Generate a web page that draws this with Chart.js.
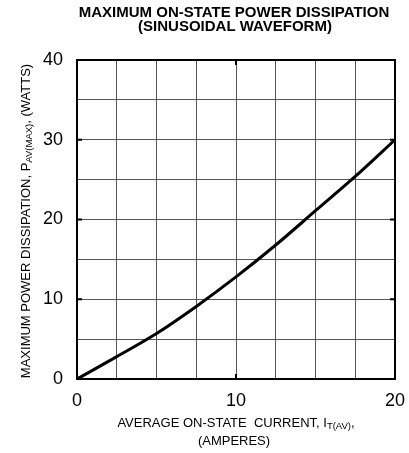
<!DOCTYPE html>
<html lang="en">
<head>
   <meta charset="UTF-8">
   <title>Maximum On-State Power Dissipation</title>
   <style>
      body { margin: 0; background: #fff; }
      #wrap { width: 409px; height: 453px; }
   </style>
   <script src="https://cdn.jsdelivr.net/npm/chart.js@4/dist/chart.umd.min.js"></script>
</head>
<body>
   <div id="wrap"><canvas id="power" width="409" height="453"></canvas></div>

   <script>
      // values
      const currentAmps = [0, 2.5, 5, 7.5, 10, 12.5, 15, 17.5, 20];
      const powerWatts  = [0, 2.8, 5.7, 9.1, 12.8, 16.8, 21.1, 25.4, 30];

      const xTicks = [0, 10, 20];
      const yTicks = [0, 10, 20, 30, 40];

      const titleLines = ['MAXIMUM ON-STATE POWER DISSIPATION', '(SINUSOIDAL WAVEFORM)'];

      let points = currentAmps.map((c, i) => ({ x: c, y: powerWatts[i] }));

      // draws a string with an inline subscript, centred on (cx, cy)
      function subText(ctx, parts, cx, cy) {
         let total = 0;
         parts.forEach(p => { ctx.font = p.font; total += ctx.measureText(p.t).width; });
         let x = cx - total / 2;
         parts.forEach(p => {
            ctx.font = p.font;
            ctx.fillText(p.t, x, cy + (p.dy || 0));
            x += ctx.measureText(p.t).width;
         });
      }

      const decor = {
         id: 'decor',
         afterDraw(chart) {
            const ctx = chart.ctx;
            const a = chart.chartArea;
            const xs = chart.scales.x, ys = chart.scales.y;
            ctx.save();

            // frame
            ctx.strokeStyle = '#000';
            ctx.lineWidth = 2;
            ctx.strokeRect(a.left, a.top, a.right - a.left, a.bottom - a.top);

            // small inward tick marks on the major values
            [10, 20, 30].forEach(v => {
               let py = ys.getPixelForValue(v);
               ctx.beginPath();
               ctx.moveTo(a.left, py); ctx.lineTo(a.left + 5, py);
               ctx.moveTo(a.right, py); ctx.lineTo(a.right - 5, py);
               ctx.stroke();
            });
            [10].forEach(v => {
               let px = xs.getPixelForValue(v);
               ctx.beginPath();
               ctx.moveTo(px, a.top); ctx.lineTo(px, a.top + 5);
               ctx.moveTo(px, a.bottom); ctx.lineTo(px, a.bottom - 5);
               ctx.stroke();
            });

            ctx.fillStyle = '#000';
            ctx.textBaseline = 'middle';

            // title
            ctx.font = 'bold 15px "Liberation Sans", Arial, sans-serif';
            ctx.textAlign = 'center';
            ctx.fillText(titleLines[0], 234, 13);
            ctx.fillText(titleLines[1], 235, 27);
            ctx.textAlign = 'left';

            const f = '13px "Liberation Sans", Arial, sans-serif';
            const fs = '9.5px "Liberation Sans", Arial, sans-serif';

            // x axis title
            subText(ctx, [
               { t: 'AVERAGE ON-STATE  CURRENT, I', font: f },
               { t: 'T(AV)', font: fs, dy: 3 },
               { t: ',', font: f }
            ], 236, 423);
            ctx.textAlign = 'center';
            ctx.font = f;
            ctx.fillText('(AMPERES)', 234, 441);
            ctx.textAlign = 'left';

            // y axis title
            ctx.translate(26, 221);
            ctx.rotate(-Math.PI / 2);
            subText(ctx, [
               { t: 'MAXIMUM POWER DISSIPATION, P', font: f },
               { t: 'AV(MAX)', font: fs, dy: 3 },
               { t: ', (WATTS)', font: f }
            ], 0, 0);

            ctx.restore();
         }
      };

      const tickFont = { family: '"Liberation Sans", Arial, sans-serif', size: 18 };

      new Chart(document.getElementById('power').getContext('2d'), {
         type: 'scatter',
         data: {
            datasets: [{
               data: points,
               showLine: true,
               borderColor: '#000',
               borderWidth: 3,
               pointRadius: 0,
               cubicInterpolationMode: 'monotone',
               fill: false
            }]
         },
         plugins: [decor],
         options: {
            responsive: false,
            animation: false,
            layout: { padding: { top: 60, right: 14, bottom: 0, left: 0 } },
            plugins: {
               legend: { display: false },
               title: { display: false },
               tooltip: { enabled: false }
            },
            scales: {
               x: {
                  type: 'linear',
                  min: 0, max: 20,
                  afterFit: s => { s.height = 74; s.paddingLeft = 0; s.paddingRight = 0; },
                  grid: { color: '#555', lineWidth: 1, drawTicks: false },
                  border: { display: false },
                  ticks: {
                     stepSize: 2.5,
                     padding: 11,
                     color: '#000',
                     font: tickFont,
                     maxRotation: 0,
                     autoSkip: false,
                     callback: v => xTicks.includes(v) ? String(v) : ''
                  }
               },
               y: {
                  min: 0, max: 40,
                  afterFit: s => { s.width = 77; s.paddingTop = 0; s.paddingBottom = 0; },
                  grid: { color: '#555', lineWidth: 1, drawTicks: false },
                  border: { display: false },
                  ticks: {
                     stepSize: 5,
                     padding: 14,
                     color: '#000',
                     font: tickFont,
                     autoSkip: false,
                     callback: v => yTicks.includes(v) ? String(v) : ''
                  }
               }
            }
         }
      });
   </script>
</body>
</html>
